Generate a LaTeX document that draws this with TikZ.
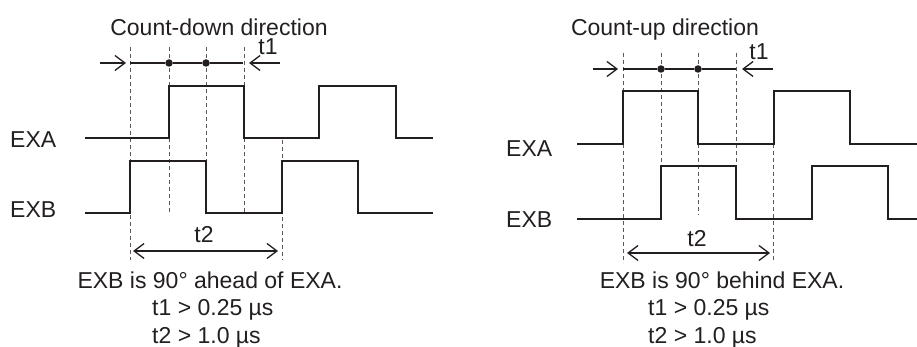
\documentclass[tikz,border=0pt]{standalone}
\usepackage{fontspec}
\setmainfont{Liberation Sans}
\usetikzlibrary{arrows.meta,positioning}
\definecolor{ink}{RGB}{35,31,32}

\begin{document}
\begin{tikzpicture}
			[
				x=1pt, y=-1pt,
				font=\fontsize{23}{28}\selectfont,
				lbl/.style={draw=none,fill=none,inner sep=0pt,text=ink},
				signal/.style={draw=ink, line width=1.8pt},
				guide/.style={draw=ink!75, line width=0.9pt, dash pattern=on 4pt off 3pt},
				arrow/.style={-{Straight Barb[length=10pt,width=15pt]}, draw=ink, line width=1.3pt},
				span/.style={{Straight Barb[length=10pt,width=15pt]}-{Straight Barb[length=10pt,width=15pt]}, draw=ink, line width=1.3pt},
				dot/.style={circle, fill=ink, inner sep=0pt, minimum size=7.5pt}
			]
			\useasboundingbox (0,0) rectangle (917,347);

			% guides
			\foreach \x/\top/\bot in {130/47/260,169/47/215,206/47/213,244/47/213,282/140/260,
			                          623/53/263,661/53/219,698/53/215,736/53/219,773/144/263}
			\draw[guide] (\x,\top) -- (\x,\bot);

			% signals, count-down side
			\draw[signal] (85,138) -- (169,138) -- (169,86) -- (244,86) -- (244,138) -- (319,138) -- (319,86) -- (396,86) -- (396,138) -- (433,138);
			\draw[signal] (85,213) -- (130,213) -- (130,161) -- (206,161) -- (206,213) -- (282,213) -- (282,161) -- (358,161) -- (358,213) -- (433,213);

			% signals, count-up side
			\draw[signal] (577,144) -- (623,144) -- (623,91) -- (698,91) -- (698,144) -- (774,144) -- (774,91) -- (850,91) -- (850,144) -- (917,144);
			\draw[signal] (577,219) -- (661,219) -- (661,166) -- (736,166) -- (736,219) -- (812,219) -- (812,166) -- (888,166) -- (888,219) -- (917,219);

			% t1 marks
			\node[dot] (dn1) at (169,63) {};
			\node[dot] (dn2) at (206,63) {};
			\node[dot] (up1) at (661,69) {};
			\node[dot] (up2) at (698,69) {};
			\coordinate (dnL) at (130,63);
			\coordinate (dnR) at (243,63);
			\coordinate (upL) at (623,69);
			\coordinate (upR) at (736,69);
			\draw[draw=ink, line width=1.3pt] (dnL) -- (dn1) -- (dn2) -- (dnR);
			\draw[draw=ink, line width=1.3pt] (upL) -- (up1) -- (up2) -- (upR);
			\draw[arrow] (100,63) -- (126,63);
			\draw[arrow] (280,63) -- (249,63);
			\draw[arrow] (593,69) -- (618,69);
			\draw[arrow] (773,69) -- (742,69);

			% t2 marks
			\coordinate (dnA) at (133,251);
			\coordinate (dnB) at (278,251);
			\coordinate (upA) at (627,253);
			\coordinate (upB) at (770,253);
			\draw[span] (dnA) -- (dnB);
			\draw[span] (upA) -- (upB);

			% labels, count-down side
			\node[lbl, anchor=base] (dntitle) at (219,36) {Count-down direction};
			\node[lbl, anchor=base] (dnt1) at (268,55) {t1};
			\node[lbl, anchor=base west] (dnexa) at (10,148) {EXA};
			\node[lbl, anchor=base west] (dnexb) at (10,218) {EXB};
			\node[lbl, anchor=base] (dnt2) at (204,243) {t2};
			\node[lbl, anchor=base] (dnnote) at (210,288) {EXB is 90° ahead of EXA.};
			\node[lbl, anchor=base west] (dnc1) at (152,315) {t1 > 0.25 µs};
			\node[lbl, anchor=base west] (dnc2) at (152,343) {t2 > 1.0 µs};

			% labels, count-up side
			\node[lbl, anchor=base] (uptitle) at (665,36) {Count-up direction};
			\node[lbl, anchor=base] (upt1) at (759,60) {t1};
			\node[lbl, anchor=base west] (upexa) at (506,157) {EXA};
			\node[lbl, anchor=base west] (upexb) at (506,228) {EXB};
			\node[lbl, anchor=base] (upt2) at (697,246) {t2};
			\node[lbl, anchor=base] (upnote) at (722,288) {EXB is 90° behind EXA.};
			\node[lbl, anchor=base west] (upc1) at (648,315) {t1 > 0.25 µs};
			\node[lbl, anchor=base west] (upc2) at (648,343) {t2 > 1.0 µs};

		\end{tikzpicture}
\end{document}
